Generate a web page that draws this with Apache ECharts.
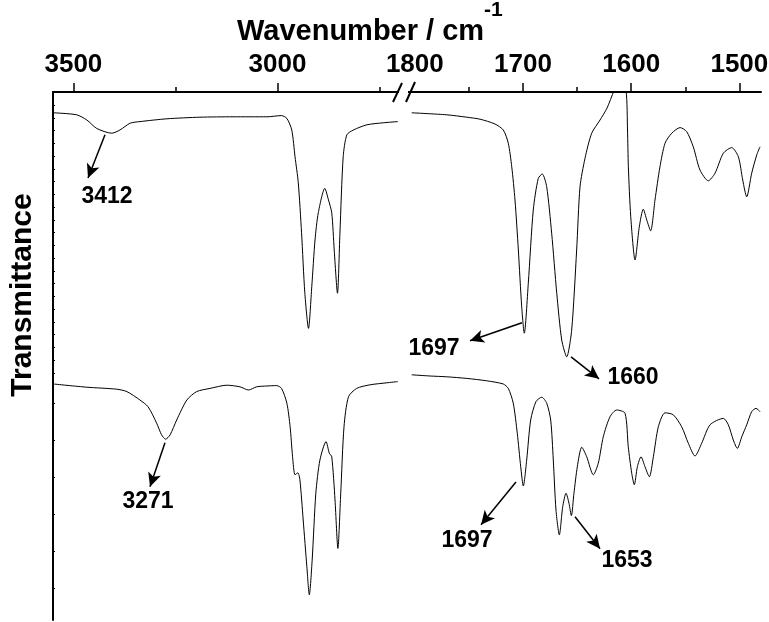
<!DOCTYPE html>
<html>
<head>
<meta charset="utf-8">
<script src="https://cdn.jsdelivr.net/npm/echarts@6.0.0/dist/echarts.min.js"></script>
<style>
  html, body { margin: 0; padding: 0; background: #fff; }
  #chart { width: 769px; height: 622px; }
</style>
</head>
<body>
<div id="chart"></div>
<script>
// high wavenumber window (3550 - 2690 cm-1)
var upperHighWn = [3549, 3492, 3467, 3443, 3406, 3386, 3361, 3337, 3271, 3190, 3109, 3026, 2990, 2977, 2965, 2957, 2949, 2941, 2933, 2924, 2916, 2908, 2900, 2884, 2875, 2867, 2861, 2853, 2847, 2839, 2830, 2814, 2781, 2741, 2705];
var upperHighT = [126.8, 126.3, 125, 122.9, 121.7, 122.5, 124.2, 124.6, 125.3, 125.7, 125.8, 125.8, 126.1, 125.4, 122.5, 115.8, 109.3, 96.8, 81.8, 72.9, 83.3, 95, 101.8, 107.9, 105, 101.8, 92.5, 81.7, 96.7, 115.8, 121.3, 122.5, 123.8, 124.3, 124.6];
var lowerHighWn = [3549, 3467, 3394, 3369, 3337, 3317, 3296, 3284, 3274, 3263, 3247, 3222, 3198, 3165, 3124, 3092, 3071, 3051, 3026, 3002, 2990, 2977, 2969, 2963, 2957, 2950, 2945, 2937, 2928, 2922, 2915, 2906, 2896, 2881, 2873, 2867, 2859, 2852, 2845, 2837, 2826, 2806, 2773, 2732, 2705];
var lowerHighT = [59, 58.2, 57.7, 57.1, 55, 53.3, 49.2, 46.3, 45.2, 46.3, 50, 55, 57.1, 57.9, 58.7, 58.3, 57.5, 58.3, 58.5, 58.6, 57.9, 54.2, 48.3, 40.8, 36.3, 36.8, 35, 25, 13.3, 6.3, 15, 31.7, 40, 44.6, 41.7, 40.8, 30, 17.9, 31.7, 48.3, 55.8, 57.9, 58.8, 59.3, 59.6];

// low wavenumber window (1810 - 1480 cm-1)
var upperLowWn = [1802.9, 1770.5, 1752, 1739.7, 1725.9, 1718.2, 1713.6, 1710.4, 1707.4, 1704.3, 1701.2, 1698.8, 1695.1, 1690.5, 1685.9, 1682.2, 1678.1, 1673.5, 1668.8, 1664.2, 1659.6, 1655, 1650.4, 1647.3, 1642.7, 1636.5, 1628.8, 1622.3, 1615.9, 1610.3, 1604.8, 1603.4, 1602.6, 1600.4, 1596.4, 1592.5, 1588.8, 1585.6, 1582, 1578, 1573.4, 1568.7, 1562.5, 1554.8, 1548.7, 1542.6, 1536.4, 1528.7, 1522.5, 1514.8, 1507.1, 1500.9, 1496.9, 1493.2, 1488.6, 1483.9, 1480.9];
var upperLowT = [126.8, 126.3, 125.7, 125.2, 124, 122.5, 119.2, 113.3, 105, 92.5, 78.3, 71.7, 84.2, 102.5, 110.4, 111.5, 108.3, 96.7, 81.7, 70, 65.8, 72.5, 92.5, 108.3, 115.4, 121.7, 125, 128, 132.3, 135.3, 132.3, 122.5, 113.3, 100.8, 90, 98.3, 102.7, 100, 97.3, 105, 113.3, 119.2, 121.7, 123.1, 122.1, 118.3, 112.5, 109.8, 111.7, 116.7, 118.1, 115.8, 110, 105.8, 111.7, 116.3, 118.3];
var lowerLowWn = [1802.9, 1786, 1770.5, 1752, 1733.6, 1718.2, 1713.6, 1709, 1705.3, 1702.1, 1699.7, 1696.6, 1692.9, 1688, 1682.7, 1678.1, 1674.4, 1672, 1669.5, 1666.4, 1663.3, 1660.2, 1657.5, 1655.3, 1652.9, 1649.8, 1645.7, 1641.1, 1635, 1630.4, 1625.8, 1619.6, 1613.4, 1605.7, 1602.7, 1599.5, 1597.1, 1594.3, 1590.9, 1587.2, 1583.2, 1579.5, 1574.9, 1568.7, 1561.1, 1553.3, 1547.2, 1541, 1534.8, 1527.1, 1514.8, 1510.2, 1505.6, 1501.9, 1497.8, 1493.2, 1488.6, 1484.6, 1480.9];
var lowerLowT = [61.3, 61, 60.8, 60.4, 59.8, 59, 57.9, 54.2, 46.7, 38.3, 33.5, 40, 50, 54.6, 55.7, 54.2, 50, 40, 27.5, 21.3, 28.3, 31.7, 29.2, 26.1, 31.7, 38.3, 43.2, 40.8, 36.3, 39.2, 45.8, 50.8, 52.5, 51.7, 43.3, 36.7, 33.8, 38.3, 40.8, 38.3, 35.8, 40.8, 48.3, 51.8, 51.3, 48.3, 44.2, 41, 44.2, 48.8, 50.4, 48.8, 45, 42.9, 45.8, 48.8, 52.1, 52.9, 52.1];

// axis ticks
var highMajor = [3500, 3000];
var highMinor = [3250, 2750];
var lowMajor = [1800, 1700, 1600, 1500];
var lowMajorTicks = [1700, 1600, 1500];
var lowMinor = [1750, 1650, 1550];
var peakNames = ['3412', '3271', '1697', '1660', '1697', '1653'];

var FONT = '"Liberation Sans", Arial, Helvetica, sans-serif';

// left axis ticks: dense in the upper half, sparse in the lower half
var yTicks = [];
for (var k = 0; k < 22; k++) yTicks.push(128.75 - 3.19 * k);
for (var j = 0; j < 6; j++) yTicks.push(8 + 9.25 * j);

function pairs(wn, t) {
  return wn.map(function (w, i) { return [w, t[i]]; });
}

function arrow(from, to) {
  return [{ coord: from }, { coord: to }];
}

function majorAxis(grid, min, max, labels, ticks) {
  return {
    type: 'value', gridIndex: grid, position: 'top', inverse: true, min: min, max: max,
    axisLine: { show: true, onZero: false, lineStyle: { color: '#000', width: 2 } },
    axisTick: { show: true, inside: false, length: 9, customValues: ticks, lineStyle: { color: '#000', width: 1.5 } },
    axisLabel: {
      show: true, customValues: labels, margin: 14, color: '#000', fontSize: 26, fontWeight: 'bold', fontFamily: FONT,
      formatter: function (v) { return String(v); }
    },
    splitLine: { show: false }
  };
}

function minorAxis(grid, min, max, ticks) {
  return {
    type: 'value', gridIndex: grid, position: 'top', inverse: true, min: min, max: max,
    axisLine: { show: false, onZero: false },
    axisTick: { show: true, inside: false, length: 5, customValues: ticks, lineStyle: { color: '#000', width: 1.5 } },
    axisLabel: { show: false },
    splitLine: { show: false }
  };
}

var arrowLine = {
  silent: true, symbol: ['none', 'arrow'], symbolSize: [10, 14],
  lineStyle: { color: '#000', width: 1.5, type: 'solid' },
  label: { show: false }, emphasis: { disabled: true }
};

var peakLabel = {
  silent: true, symbol: 'circle', symbolSize: 1, itemStyle: { color: 'rgba(0,0,0,0)' },
  label: { show: true, position: 'inside', formatter: '{b}', color: '#000', fontSize: 23, fontWeight: 'bold', fontFamily: FONT }
};

function spectrum(xi, yi, data, arrows, labels) {
  return {
    type: 'line', xAxisIndex: xi, yAxisIndex: yi, data: data,
    showSymbol: false, smooth: 0.25, clip: true,
    lineStyle: { color: '#000', width: 1 },
    markLine: Object.assign({ data: arrows }, arrowLine),
    markPoint: Object.assign({ data: labels }, peakLabel)
  };
}

var chart = echarts.init(document.getElementById('chart'));
chart.setOption({
  animation: false,
  backgroundColor: '#fff',
  grid: [
    { left: 53, top: 92, width: 351, height: 528, outerBoundsMode: 'none', containLabel: false },
    { left: 404, top: 92, width: 357, height: 528, outerBoundsMode: 'none', containLabel: false }
  ],
  xAxis: [
    majorAxis(0, 2690, 3550, highMajor, highMajor),
    minorAxis(0, 2690, 3550, highMinor),
    majorAxis(1, 1480, 1810, lowMajor, lowMajorTicks),
    minorAxis(1, 1480, 1810, lowMinor)
  ],
  yAxis: [
    {
      type: 'value', gridIndex: 0, min: 0, max: 132,
      axisLine: { show: true, onZero: false, lineStyle: { color: '#000', width: 2 } },
      axisTick: { show: true, inside: true, length: 2, customValues: yTicks, lineStyle: { color: '#000', width: 1 } },
      axisLabel: { show: false }, splitLine: { show: false }
    },
    {
      type: 'value', gridIndex: 1, min: 0, max: 132,
      axisLine: { show: false }, axisTick: { show: false }, axisLabel: { show: false }, splitLine: { show: false }
    }
  ],
  series: [
    spectrum(0, 0, pairs(upperHighWn, upperHighT),
      [arrow([3422.6, 121.3], [3464.2, 110.5])],
      [{ name: peakNames[0], coord: [3417.7, 105.8] }]),
    spectrum(0, 0, pairs(lowerHighWn, lowerHighT),
      [arrow([3275.6, 44.3], [3312.3, 33.3])],
      [{ name: peakNames[1], coord: [3317.2, 29.5] }]),
    spectrum(2, 1, pairs(upperLowWn, upperLowT),
      [arrow([1700.9, 74.3], [1749, 69.8]), arrow([1655.6, 65.8], [1629.7, 60.3])],
      [{ name: peakNames[2], coord: [1782.3, 67.8] }, { name: peakNames[3], coord: [1598.3, 60.5] }]),
    spectrum(2, 1, pairs(lowerLowWn, lowerLowT),
      [arrow([1706.5, 34.5], [1738.8, 23.8]), arrow([1651.9, 25.8], [1628.8, 17.8])],
      [{ name: peakNames[4], coord: [1751.8, 19.8] }, { name: peakNames[5], coord: [1603.9, 14.8] }])
  ],
  graphic: [
    {
      type: 'text', left: 237, top: 0,
      style: {
        text: '{a|Wavenumber / cm}{b|-1}',
        rich: {
          a: { fontSize: 29, fontWeight: 'bold', fontFamily: FONT, lineHeight: 64, fill: '#000' },
          b: { fontSize: 21, fontWeight: 'bold', fontFamily: FONT, lineHeight: 22, verticalAlign: 'top', fill: '#000' }
        }
      }
    },
    {
      type: 'text', x: 23, y: 295, rotation: Math.PI / 2,
      style: { text: 'Transmittance', fontSize: 30, fontWeight: 'bold', fontFamily: FONT, fill: '#000', align: 'center', verticalAlign: 'middle' }
    },
    // axis break
    { type: 'rect', shape: { x: 399, y: 88, width: 9, height: 7 }, style: { fill: '#fff' }, z: 100 },
    { type: 'line', shape: { x1: 393, y1: 102, x2: 402, y2: 83 }, style: { stroke: '#000', lineWidth: 2 }, z: 101 },
    { type: 'line', shape: { x1: 406, y1: 102, x2: 415, y2: 82 }, style: { stroke: '#000', lineWidth: 2 }, z: 101 }
  ]
});
</script>
</body>
</html>
